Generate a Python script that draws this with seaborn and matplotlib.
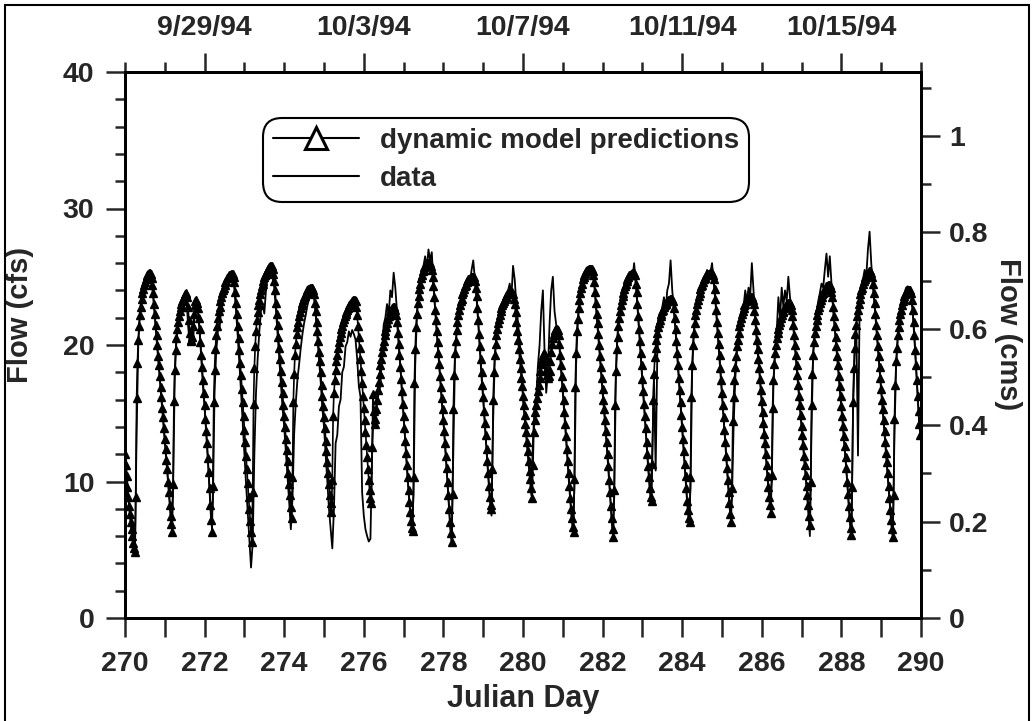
import numpy as np
import pandas as pd
import matplotlib
matplotlib.use("Agg")
import matplotlib.pyplot as plt
import seaborn as sns
from matplotlib.lines import Line2D
from matplotlib.patches import Rectangle
from matplotlib.ticker import MultipleLocator, FixedLocator, FixedFormatter, FuncFormatter

CFS_TO_CMS = 0.0283168
start_day = 270
model_per_day = 48   # half-hourly model output
data_per_day = 24    # hourly observations

# dynamic model predictions (cfs), one row per Julian day
model_cfs = [
    12.0, 11.2, 10.4, 9.6, 8.9, 8.2, 7.6, 7.0, 6.5, 6.0, 5.5, 5.1, 4.8, 8.9, 16.1, 18.7, 20.4, 21.4, 22.2, 22.8, 23.4, 23.8, 24.1, 24.4, 24.6, 24.8, 25.0, 25.1, 25.2, 25.3, 25.3, 25.2, 24.9, 24.4, 23.8, 23.0, 22.3, 21.5, 20.7, 20.0, 19.2, 18.5, 17.7, 16.9, 16.2, 15.4, 14.7, 13.9,
    13.1, 12.4, 11.6, 10.9, 10.0, 9.2, 8.3, 7.5, 6.9, 6.3, 9.8, 15.9, 18.2, 19.6, 20.5, 21.2, 21.7, 22.1, 22.5, 22.8, 23.0, 23.2, 23.4, 23.5, 23.7, 23.7, 23.8, 23.5, 22.8, 21.8, 20.9, 20.4, 20.3, 20.6, 21.4, 22.3, 22.9, 23.2, 23.3, 23.1, 22.7, 22.0, 21.2, 20.2, 19.3, 18.4, 17.4, 16.5,
    15.6, 14.6, 13.7, 12.8, 11.7, 10.7, 9.5, 8.3, 7.2, 6.3, 9.7, 15.8, 18.2, 19.7, 20.7, 21.4, 22.0, 22.5, 22.8, 23.2, 23.5, 23.8, 24.0, 24.2, 24.4, 24.6, 24.7, 24.9, 25.0, 25.0, 25.1, 25.1, 25.2, 25.2, 25.2, 25.0, 24.6, 23.9, 23.1, 22.3, 21.4, 20.5, 19.6, 18.7, 17.8, 16.8, 15.8, 14.8,
    13.8, 12.9, 11.9, 10.9, 9.9, 8.9, 8.0, 7.1, 6.3, 5.6, 9.2, 15.7, 18.3, 19.9, 21.0, 21.8, 22.4, 22.9, 23.3, 23.7, 24.0, 24.3, 24.5, 24.7, 25.0, 25.1, 25.3, 25.4, 25.6, 25.6, 25.7, 25.8, 25.8, 25.8, 25.6, 25.2, 24.7, 24.0, 23.1, 22.3, 21.5, 20.6, 19.8, 19.0, 18.1, 17.3, 16.5, 15.6,
    14.8, 14.0, 13.1, 12.3, 11.5, 10.6, 9.8, 9.0, 8.1, 7.3, 10.3, 15.8, 17.9, 19.3, 20.1, 20.8, 21.3, 21.7, 22.1, 22.4, 22.7, 22.9, 23.1, 23.3, 23.5, 23.6, 23.8, 23.9, 24.0, 24.1, 24.1, 24.2, 24.2, 24.2, 24.2, 24.0, 23.7, 23.1, 22.5, 21.7, 21.0, 20.3, 19.5, 18.8, 18.0, 17.1, 16.3, 15.5,
    14.7, 13.9, 13.0, 12.2, 11.4, 10.6, 9.8, 9.0, 8.4, 7.8, 10.1, 14.8, 16.5, 17.4, 18.2, 18.8, 19.3, 19.8, 20.2, 20.6, 20.9, 21.2, 21.4, 21.7, 21.9, 22.1, 22.3, 22.4, 22.6, 22.7, 22.9, 23.0, 23.1, 23.1, 23.2, 23.3, 23.3, 23.3, 23.2, 22.8, 22.2, 21.4, 20.6, 19.8, 19.0, 18.1, 17.2, 16.3,
    15.4, 14.5, 13.6, 12.7, 11.8, 10.9, 10.1, 9.4, 8.8, 8.4, 12.5, 16.4, 15.2, 14.2, 14.6, 15.3, 16.0, 16.7, 17.3, 17.9, 18.5, 19.0, 19.5, 19.9, 20.3, 20.7, 21.0, 21.3, 21.6, 21.9, 22.1, 22.3, 22.5, 22.6, 22.7, 22.8, 22.8, 22.8, 22.6, 22.2, 21.7, 20.9, 20.1, 19.3, 18.4, 17.5, 16.6, 15.7,
    14.8, 13.9, 13.0, 12.1, 11.2, 10.3, 9.4, 8.5, 7.8, 7.1, 6.6, 6.4, 10.3, 17.2, 19.7, 21.3, 22.3, 23.1, 23.6, 24.1, 24.5, 24.9, 25.1, 25.4, 25.5, 25.7, 25.8, 25.9, 25.9, 26.0, 26.0, 26.0, 26.0, 25.8, 25.5, 25.0, 24.3, 23.5, 22.6, 21.8, 21.0, 20.2, 19.4, 18.6, 17.7, 16.9, 16.1, 15.3,
    14.5, 13.7, 12.8, 11.9, 11.0, 10.0, 9.0, 8.0, 7.0, 6.2, 5.6, 9.1, 15.3, 17.8, 19.4, 20.3, 21.1, 21.7, 22.2, 22.6, 22.9, 23.2, 23.4, 23.7, 23.9, 24.1, 24.3, 24.4, 24.6, 24.7, 24.8, 24.8, 24.9, 24.9, 25.0, 25.0, 25.0, 25.0, 24.7, 24.2, 23.6, 22.7, 21.8, 20.8, 19.9, 19.0, 18.0, 17.1,
    16.2, 15.2, 14.3, 13.4, 12.4, 11.5, 10.6, 9.7, 8.9, 8.3, 8.0, 10.9, 16.0, 18.0, 19.3, 20.1, 20.7, 21.2, 21.6, 21.9, 22.2, 22.5, 22.7, 22.9, 23.1, 23.2, 23.4, 23.5, 23.6, 23.7, 23.8, 23.8, 23.9, 23.9, 23.9, 23.9, 23.7, 23.4, 23.0, 22.4, 21.7, 21.0, 20.4, 19.7, 19.0, 18.3, 17.6, 17.0,
    16.3, 15.6, 14.9, 14.2, 13.6, 12.9, 12.2, 11.5, 10.8, 10.2, 9.5, 8.8, 11.2, 13.6, 14.5, 15.1, 15.6, 16.1, 16.6, 17.1, 17.6, 18.1, 18.6, 19.0, 19.3, 19.4, 19.3, 18.8, 18.2, 17.8, 17.6, 17.7, 18.1, 18.8, 19.5, 20.1, 20.5, 20.8, 21.0, 21.1, 21.2, 21.2, 21.1, 20.7, 20.1, 19.3, 18.5, 17.7,
    16.9, 16.0, 15.1, 14.2, 13.3, 12.4, 11.5, 10.6, 9.7, 8.8, 8.0, 7.3, 6.7, 6.3, 10.2, 16.9, 19.4, 21.0, 21.9, 22.7, 23.3, 23.8, 24.2, 24.5, 24.8, 25.0, 25.1, 25.3, 25.4, 25.5, 25.5, 25.6, 25.6, 25.6, 25.6, 25.6, 25.4, 25.1, 24.6, 23.9, 23.1, 22.3, 21.6, 20.8, 20.0, 19.2, 18.4, 17.6,
    16.8, 16.0, 15.3, 14.5, 13.7, 12.9, 12.0, 11.1, 10.1, 9.2, 8.2, 7.3, 6.5, 5.9, 9.4, 15.6, 18.1, 19.7, 20.6, 21.4, 22.0, 22.5, 22.9, 23.3, 23.6, 23.8, 24.1, 24.3, 24.5, 24.7, 24.8, 25.0, 25.1, 25.1, 25.2, 25.2, 25.3, 25.3, 25.3, 25.1, 24.5, 23.9, 23.0, 22.1, 21.2, 20.3, 19.4, 18.5,
    17.5, 16.6, 15.7, 14.8, 13.9, 12.9, 12.0, 11.1, 10.3, 9.5, 8.9, 8.6, 11.3, 16.0, 17.9, 19.1, 19.8, 20.4, 20.9, 21.3, 21.6, 21.8, 22.1, 22.3, 22.5, 22.6, 22.8, 22.9, 23.0, 23.1, 23.2, 23.3, 23.3, 23.4, 23.4, 23.4, 23.4, 23.2, 22.7, 22.0, 21.2, 20.3, 19.4, 18.5, 17.6, 16.7, 15.8, 14.9,
    14.0, 13.1, 12.2, 11.3, 10.4, 9.5, 8.6, 7.9, 7.3, 7.0, 10.3, 16.2, 18.5, 20.0, 20.9, 21.6, 22.2, 22.6, 23.0, 23.3, 23.6, 23.8, 24.1, 24.3, 24.4, 24.6, 24.8, 24.9, 25.0, 25.1, 25.2, 25.2, 25.2, 25.3, 25.3, 25.3, 25.3, 25.1, 24.8, 24.1, 23.4, 22.6, 21.7, 20.9, 20.1, 19.3, 18.3, 17.4,
    16.5, 15.6, 14.7, 13.8, 12.9, 11.9, 11.0, 10.1, 9.2, 8.4, 7.6, 7.0, 9.5, 14.4, 16.2, 17.4, 18.4, 19.2, 19.9, 20.4, 20.9, 21.4, 21.7, 22.0, 22.3, 22.5, 22.7, 22.9, 23.0, 23.2, 23.3, 23.4, 23.4, 23.5, 23.5, 23.5, 23.5, 23.3, 23.0, 22.5, 21.8, 21.1, 20.4, 19.7, 19.0, 18.3, 17.5, 16.7,
    15.9, 15.1, 14.3, 13.5, 12.8, 12.0, 11.2, 10.4, 9.6, 8.9, 8.3, 7.7, 10.5, 15.4, 17.4, 18.6, 19.4, 20.0, 20.5, 20.9, 21.2, 21.5, 21.7, 22.0, 22.2, 22.4, 22.5, 22.7, 22.8, 22.9, 23.0, 23.0, 23.1, 23.1, 23.1, 22.9, 22.6, 22.1, 21.5, 20.7, 20.0, 19.3, 18.5, 17.8, 17.1, 16.3, 15.6, 14.9,
    14.1, 13.4, 12.7, 11.9, 11.2, 10.5, 9.7, 9.0, 8.3, 7.5, 6.8, 10.0, 15.6, 17.9, 19.3, 20.2, 20.9, 21.4, 21.8, 22.2, 22.6, 22.8, 23.1, 23.3, 23.5, 23.7, 23.8, 24.0, 24.1, 24.2, 24.3, 24.3, 24.4, 24.4, 24.4, 24.2, 23.9, 23.5, 22.8, 22.1, 21.4, 20.6, 19.9, 19.2, 18.5, 17.7, 17.0, 16.3,
    15.5, 14.8, 14.1, 13.3, 12.6, 11.8, 11.0, 10.0, 9.1, 8.2, 7.4, 6.6, 6.1, 9.6, 15.8, 18.3, 19.8, 20.8, 21.5, 22.1, 22.6, 23.0, 23.4, 23.7, 24.0, 24.2, 24.5, 24.7, 24.8, 25.0, 25.1, 25.2, 25.3, 25.4, 25.4, 25.4, 25.3, 25.0, 24.5, 23.8, 23.1, 22.3, 21.5, 20.7, 19.9, 19.2, 18.4, 17.6,
    16.8, 16.0, 15.3, 14.5, 13.7, 12.9, 12.1, 11.4, 10.6, 9.7, 8.8, 7.9, 7.2, 6.5, 5.9, 9.0, 14.6, 17.1, 18.8, 19.8, 20.7, 21.3, 21.8, 22.3, 22.6, 22.9, 23.2, 23.4, 23.6, 23.7, 23.9, 23.9, 24.0, 24.0, 24.0, 24.0, 23.8, 23.3, 22.6, 21.7, 20.7, 19.6, 18.5, 17.4, 16.3, 15.2, 14.2, 13.4,
]

# measured flow (cfs), hourly, one row per Julian day
data_cfs = [
    12.1, 10.6, 8.8, 7.5, 6.3, 5.4, 4.9, 13.5, 20.0, 22.4, 23.6, 24.3, 24.8, 25.1, 25.4, 25.2, 24.6, 23.5, 22.0, 20.4, 18.9, 17.4, 16.0, 14.5,
    13.0, 11.5, 9.9, 8.2, 6.6, 9.5, 17.6, 20.3, 21.8, 22.6, 23.2, 23.5, 23.8, 23.6, 21.5, 20.1, 20.0, 20.0, 22.5, 23.5, 22.4, 21.0, 19.0, 17.0,
    15.4, 13.5, 11.5, 9.2, 7.0, 8.5, 16.5, 19.5, 21.0, 21.2, 22.6, 23.6, 24.2, 24.8, 25.0, 24.6, 25.0, 25.3, 24.0, 22.4, 20.6, 18.6, 16.5, 14.2,
    12.0, 9.8, 7.8, 5.9, 3.7, 5.5, 12.0, 16.5, 19.0, 21.0, 22.5, 23.0, 22.3, 24.0, 25.0, 25.5, 25.3, 25.0, 24.2, 22.6, 20.8, 19.0, 17.2, 15.4,
    14.0, 12.2, 10.4, 8.5, 6.5, 8.8, 13.5, 15.8, 17.5, 18.6, 19.8, 20.8, 21.6, 22.2, 22.9, 23.4, 23.8, 24.0, 23.5, 22.2, 20.6, 19.0, 17.3, 15.4,
    14.0, 12.0, 10.0, 8.0, 6.5, 5.1, 8.0, 12.8, 13.4, 15.5, 16.0, 18.0, 18.4, 19.9, 20.2, 21.0, 20.6, 21.1, 20.8, 20.4, 19.0, 17.0, 16.2, 9.2,
    7.5, 6.5, 6.0, 5.6, 5.8, 12.0, 15.5, 15.0, 15.8, 16.5, 17.0, 19.5, 21.5, 22.0, 23.0, 22.2, 24.0, 23.5, 25.3, 24.2, 22.5, 20.4, 18.5, 16.6,
    14.7, 12.8, 11.0, 9.2, 7.6, 6.5, 9.0, 18.5, 22.0, 23.8, 24.8, 25.3, 25.8, 26.5, 25.6, 27.0, 26.2, 26.8, 24.5, 22.6, 20.9, 19.3, 17.6, 15.9,
    14.4, 12.6, 10.8, 8.8, 6.8, 5.6, 12.5, 19.0, 21.0, 22.3, 23.0, 23.5, 23.8, 24.5, 24.4, 24.9, 24.6, 25.5, 26.2, 24.8, 23.4, 21.6, 19.6, 17.6,
    16.0, 14.1, 12.2, 10.4, 8.7, 7.5, 14.5, 19.0, 20.5, 21.5, 22.4, 22.6, 23.2, 23.5, 23.0, 24.0, 24.5, 23.5, 25.8, 24.8, 23.0, 21.6, 20.2, 18.5,
    16.0, 14.6, 13.2, 11.8, 10.4, 9.0, 13.0, 15.5, 16.2, 18.5, 20.0, 22.5, 24.0, 19.5, 16.5, 18.0, 21.5, 24.0, 25.0, 22.5, 21.5, 20.8, 19.8, 18.0,
    16.5, 14.8, 13.0, 11.2, 9.4, 7.8, 6.5, 9.5, 18.5, 21.5, 23.0, 24.0, 24.5, 25.0, 25.2, 25.3, 25.5, 25.5, 25.2, 24.3, 22.8, 21.2, 19.6, 18.0,
    16.5, 15.0, 13.4, 11.7, 9.8, 8.0, 6.3, 8.8, 17.5, 20.8, 22.2, 23.0, 23.5, 24.0, 24.8, 24.5, 25.2, 25.0, 24.8, 26.0, 24.6, 22.8, 21.0, 19.2,
    17.2, 15.5, 13.7, 11.8, 10.1, 8.7, 12.5, 17.5, 10.8, 19.5, 21.0, 22.0, 22.8, 23.5, 22.6, 24.0, 24.5, 26.2, 24.0, 22.5, 21.0, 19.2, 17.4, 15.6,
    13.8, 12.0, 10.2, 8.4, 7.1, 9.5, 18.0, 20.8, 22.0, 23.2, 23.6, 24.2, 24.0, 24.9, 25.0, 25.5, 25.0, 25.3, 26.0, 24.6, 23.2, 21.5, 19.9, 18.1,
    16.3, 14.5, 12.7, 10.8, 9.0, 7.4, 8.8, 14.0, 17.5, 19.5, 20.8, 21.5, 22.5, 22.8, 24.0, 23.2, 24.2, 23.6, 26.0, 24.0, 22.0, 20.3, 18.8, 17.3,
    15.7, 14.1, 12.6, 11.0, 9.4, 8.1, 10.0, 17.0, 19.5, 21.0, 23.5, 22.0, 24.2, 22.8, 24.0, 23.2, 25.0, 23.5, 22.5, 21.3, 19.8, 18.3, 16.9, 15.4,
    13.9, 12.4, 11.0, 9.5, 7.8, 6.0, 14.0, 19.5, 21.0, 22.4, 23.2, 23.8, 24.5, 24.2, 25.5, 26.7, 25.0, 26.5, 24.5, 22.6, 21.2, 19.7, 18.3, 16.8,
    15.3, 13.9, 12.4, 10.8, 9.0, 7.2, 6.0, 15.0, 19.5, 21.5, 11.9, 23.0, 24.2, 24.8, 25.5, 25.0, 27.0, 28.3, 26.0, 24.3, 22.9, 21.3, 19.7, 18.2,
    16.6, 15.1, 13.5, 11.9, 10.4, 8.6, 7.0, 6.0, 13.5, 18.5, 20.5, 21.8, 22.7, 23.3, 23.8, 24.2, 24.3, 24.0, 23.6, 22.4, 20.5, 18.3, 16.1, 14.0,
]

date_ticks = [272, 276, 280, 284, 288]
date_labels = ["9/29/94", "10/3/94", "10/7/94", "10/11/94", "10/15/94"]
legend_labels = ["dynamic model predictions", "data"]

model_df = pd.DataFrame({"day": start_day + np.arange(len(model_cfs)) / model_per_day,
                         "flow": model_cfs})
data_df = pd.DataFrame({"day": start_day + np.arange(len(data_cfs)) / data_per_day,
                        "flow": data_cfs})

sns.set_style("ticks")
plt.rcParams["font.family"] = ["Liberation Sans", "DejaVu Sans"]
plt.rcParams["font.weight"] = "bold"
plt.rcParams["axes.labelweight"] = "bold"

fig = plt.figure(figsize=(10.32, 7.21), dpi=100)
ax = fig.add_axes([125 / 1032, 1 - 618 / 721, 796 / 1032, 546 / 721])

sns.lineplot(data=model_df, x="day", y="flow", ax=ax, color="black", lw=1.2,
             marker="^", markersize=5.5, markerfacecolor="black",
             markeredgecolor="black", markeredgewidth=1.0,
             estimator=None, sort=False)
sns.lineplot(data=data_df, x="day", y="flow", ax=ax, color="black", lw=1.3,
             estimator=None, sort=False)

ax.set_xlim(270, 290)
ax.set_ylim(0, 40)
ax.xaxis.set_major_locator(MultipleLocator(2))
ax.xaxis.set_minor_locator(MultipleLocator(1))
ax.yaxis.set_major_locator(MultipleLocator(10))
ax.yaxis.set_minor_locator(MultipleLocator(2))
ax.tick_params(which="both", direction="out", width=1.8, labelsize=20.5, top=False, right=False)
ax.tick_params(axis="x", which="both", length=14, pad=10)
ax.tick_params(axis="y", which="major", length=14, pad=8)
ax.tick_params(axis="y", which="minor", length=7)
ax.set_xlabel("Julian Day", fontsize=22, labelpad=5)
ax.set_ylabel("Flow (cfs)", fontsize=21, labelpad=21)
ax.yaxis.label.set_y(0.555)

# right axis in cms
ax_r = ax.twinx()
ax_r.set_ylim(0, 40 * CFS_TO_CMS)
ax_r.yaxis.set_major_locator(MultipleLocator(0.2))
ax_r.yaxis.set_minor_locator(MultipleLocator(0.1))
ax_r.yaxis.set_major_formatter(FuncFormatter(lambda v, p: f"{v:g}"))
ax_r.tick_params(which="both", direction="out", width=1.8, labelsize=20.5)
ax_r.tick_params(which="major", length=14, pad=6)
ax_r.tick_params(which="minor", length=7)
ax_r.set_ylabel("Flow (cms)", fontsize=21, rotation=270, labelpad=24)
ax_r.yaxis.label.set_y(0.52)

# top axis with calendar dates
ax_t = ax.twiny()
ax_t.set_xlim(270, 290)
ax_t.xaxis.set_major_locator(FixedLocator(date_ticks))
ax_t.xaxis.set_major_formatter(FixedFormatter(date_labels))
ax_t.xaxis.set_minor_locator(MultipleLocator(1))
ax_t.tick_params(which="both", direction="out", width=1.8, labelsize=20.5)
ax_t.tick_params(which="major", length=14, pad=8)
ax_t.tick_params(which="minor", length=7)

for a in (ax, ax_r, ax_t):
    for s in a.spines.values():
        s.set_linewidth(1.8)
        s.set_color("black")

handles = [
    Line2D([], [], color="black", lw=1.5, marker="^", markersize=16,
           markerfacecolor="white", markeredgecolor="black", markeredgewidth=2.2),
    Line2D([], [], color="black", lw=1.5),
]
leg = ax.legend(handles, legend_labels, loc="upper left", bbox_to_anchor=(0.173, 0.916),
                prop={"size": 20, "weight": "bold"}, frameon=True, fancybox=True,
                framealpha=1, edgecolor="black", handlelength=3.1, handletextpad=0.75,
                borderpad=0.36, labelspacing=0.42, borderaxespad=0)
leg.get_frame().set_linewidth(1.5)
leg.get_frame().set_boxstyle("round,pad=0,rounding_size=0.7")

# frame around the whole figure (bottom edge falls outside the image)
fig.patches.append(Rectangle((5 / 1032, -4 / 721), 1024 / 1032, 720 / 721,
                             transform=fig.transFigure, fill=False,
                             edgecolor="black", lw=1.5))

fig.savefig("out.png", dpi=100)
